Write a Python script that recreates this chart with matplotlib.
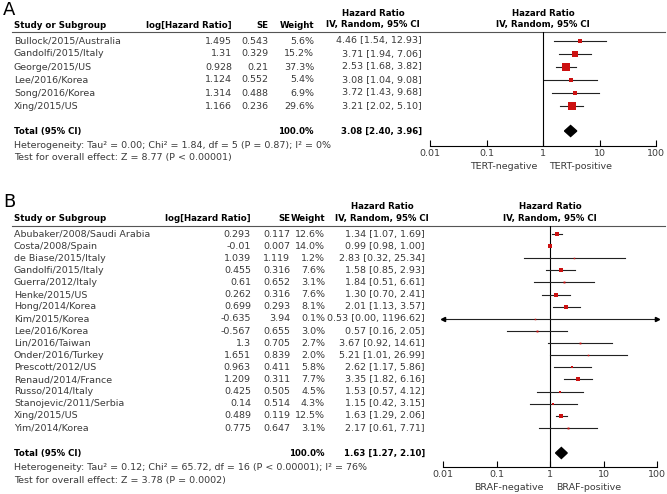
import matplotlib
matplotlib.use("Agg")
import matplotlib.pyplot as plt
from matplotlib.patches import Polygon
from matplotlib.ticker import NullLocator

W, H = 667, 494

# Panel A: TERT
a_studies = ["Bullock/2015/Australia", "Gandolfi/2015/Italy", "George/2015/US",
             "Lee/2016/Korea", "Song/2016/Korea", "Xing/2015/US"]
a_loghr = [1.495, 1.31, 0.928, 1.124, 1.314, 1.166]
a_se = [0.543, 0.329, 0.21, 0.552, 0.488, 0.236]
a_weight = [5.6, 15.2, 37.3, 5.4, 6.9, 29.6]
a_hr = [4.46, 3.71, 2.53, 3.08, 3.72, 3.21]
a_lo = [1.54, 1.94, 1.68, 1.04, 1.43, 2.02]
a_hi = [12.93, 7.06, 3.82, 9.08, 9.68, 5.10]
a_total = [3.08, 2.40, 3.96]
a_het = "Heterogeneity: Tau² = 0.00; Chi² = 1.84, df = 5 (P = 0.87); I² = 0%"
a_test = "Test for overall effect: Z = 8.77 (P < 0.00001)"

# Panel B: BRAF
b_studies = ["Abubaker/2008/Saudi Arabia", "Costa/2008/Spain", "de Biase/2015/Italy",
             "Gandolfi/2015/Italy", "Guerra/2012/Italy", "Henke/2015/US",
             "Hong/2014/Korea", "Kim/2015/Korea", "Lee/2016/Korea", "Lin/2016/Taiwan",
             "Onder/2016/Turkey", "Prescott/2012/US", "Renaud/2014/France",
             "Russo/2014/Italy", "Stanojevic/2011/Serbia", "Xing/2015/US", "Yim/2014/Korea"]
b_loghr = [0.293, -0.01, 1.039, 0.455, 0.61, 0.262, 0.699, -0.635, -0.567, 1.3,
           1.651, 0.963, 1.209, 0.425, 0.14, 0.489, 0.775]
b_se = [0.117, 0.007, 1.119, 0.316, 0.652, 0.316, 0.293, 3.94, 0.655, 0.705,
        0.839, 0.411, 0.311, 0.505, 0.514, 0.119, 0.647]
b_weight = [12.6, 14.0, 1.2, 7.6, 3.1, 7.6, 8.1, 0.1, 3.0, 2.7,
            2.0, 5.8, 7.7, 4.5, 4.3, 12.5, 3.1]
b_hr = [1.34, 0.99, 2.83, 1.58, 1.84, 1.30, 2.01, 0.53, 0.57, 3.67,
        5.21, 2.62, 3.35, 1.53, 1.15, 1.63, 2.17]
b_lo = [1.07, 0.98, 0.32, 0.85, 0.51, 0.70, 1.13, 0.00, 0.16, 0.92,
        1.01, 1.17, 1.82, 0.57, 0.42, 1.29, 0.61]
b_hi = [1.69, 1.00, 25.34, 2.93, 6.61, 2.41, 3.57, 1196.62, 2.05, 14.61,
        26.99, 5.86, 6.16, 4.12, 3.15, 2.06, 7.71]
b_total = [1.63, 1.27, 2.10]
b_het = "Heterogeneity: Tau² = 0.12; Chi² = 65.72, df = 16 (P < 0.00001); I² = 76%"
b_test = "Test for overall effect: Z = 3.78 (P = 0.0002)"

TICKS = [0.01, 0.1, 1, 10, 100]
TICK_LABELS = ["0.01", "0.1", "1", "10", "100"]

FS = 6.8     # regular text
FSB = 6.2    # bold headers
GREY = "#3a3a3a"
RED = "#cc1111"


def draw_panel(fig, tax, letter, studies, loghr, se, weight, hr, lo, hi, total,
               het, test, neg, pos, lay):
    # panel letter and headers
    tax.text(3, lay["letter"], letter, fontsize=13, va="center", ha="left")
    for xc in (lay["ci_c"], lay["x1"]):
        tax.text(xc, lay["h1"], "Hazard Ratio", fontsize=FSB, weight="bold",
                 ha="center", va="center")
        tax.text(xc, lay["h2"], "IV, Random, 95% CI", fontsize=FSB, weight="bold",
                 ha="center", va="center")
    tax.text(14, lay["h2"], "Study or Subgroup", fontsize=FSB, weight="bold", va="center")
    tax.text(lay["c_lhr"], lay["h2"], "log[Hazard Ratio]", fontsize=FSB, weight="bold",
             ha="right", va="center")
    tax.text(lay["c_se"], lay["h2"], "SE", fontsize=FSB, weight="bold", ha="right", va="center")
    tax.text(lay["c_w"], lay["h2"], "Weight", fontsize=FSB, weight="bold", ha="right", va="center")
    tax.plot([12, 665], [lay["line"], lay["line"]], color="#555555", lw=0.8)

    rows = [lay["r0"] + lay["dr"] * i for i in range(len(studies))]
    for y, s, l, e, w, h, a, b in zip(rows, studies, loghr, se, weight, hr, lo, hi):
        tax.text(14, y, s, fontsize=FS, color=GREY, va="center")
        tax.text(lay["c_lhr"], y, str(l), fontsize=FS, color=GREY, ha="right", va="center")
        tax.text(lay["c_se"], y, str(e), fontsize=FS, color=GREY, ha="right", va="center")
        tax.text(lay["c_w"], y, f"{w:.1f}%", fontsize=FS, color=GREY, ha="right", va="center")
        tax.text(lay["c_ci"], y, f"{h:.2f} [{a:.2f}, {b:.2f}]", fontsize=FS, color=GREY,
                 ha="right", va="center")

    ty = lay["tot"]
    tax.text(14, ty, "Total (95% CI)", fontsize=FSB, weight="bold", va="center")
    tax.text(lay["c_w"], ty, "100.0%", fontsize=FSB, weight="bold", ha="right", va="center")
    tax.text(lay["c_ci"], ty, f"{total[0]:.2f} [{total[1]:.2f}, {total[2]:.2f}]",
             fontsize=FSB, weight="bold", ha="right", va="center")
    tax.text(14, lay["het"], het, fontsize=FS, color=GREY, va="center")
    tax.text(14, lay["test"], test, fontsize=FS, color=GREY, va="center")

    # forest axes, y in figure pixels
    x0, x1, top, bot = lay["ax_l"], lay["ax_r"], lay["line"], lay["axis"]
    ax = fig.add_axes([x0 / W, 1 - bot / H, (x1 - x0) / W, (bot - top) / H])
    ax.set_xscale("log")
    ax.set_xlim(0.01, 100)
    ax.set_ylim(bot, top)
    ax.patch.set_alpha(0)
    for sp in ("top", "left", "right"):
        ax.spines[sp].set_visible(False)
    ax.spines["bottom"].set_linewidth(0.8)
    ax.set_yticks([])
    ax.set_xticks(TICKS)
    ax.set_xticklabels(TICK_LABELS)
    ax.xaxis.set_minor_locator(NullLocator())
    ax.tick_params(axis="x", direction="in", length=4, width=0.8, labelsize=FS,
                   pad=2, labelcolor=GREY)
    ax.axvline(1, color="black", lw=0.8)

    for y, w, h, a, b in zip(rows, weight, hr, lo, hi):
        a2, b2 = max(a, 0.0101), min(b, 99)
        ax.plot([a2, b2], [y, y], color="#222222", lw=0.8)
        if a < 0.01:
            ax.plot(a2, y, marker="<", color="black", ms=3, clip_on=False)
        if b > 100:
            ax.plot(b2, y, marker=">", color="black", ms=3, clip_on=False)
        side = max(lay["sq"] * w ** 0.5, 1.5)
        ax.plot(h, y, marker="s", color=RED, ms=side * 0.72, mew=0, ls="none")

    dh = 5.5
    ax.add_patch(Polygon([[total[1], ty], [total[0], ty - dh], [total[2], ty],
                          [total[0], ty + dh]], closed=True, color="black"))

    tax.text(lay["x1"] - 6, lay["lab"], neg, fontsize=FS, color=GREY, ha="right", va="center")
    tax.text(lay["x1"] + 6, lay["lab"], pos, fontsize=FS, color=GREY, ha="left", va="center")


lay_a = dict(letter=10, h1=13, h2=25, line=32, r0=41, dr=13, tot=131, het=145, test=157,
             axis=146, lab=166, ax_l=430, ax_r=656, x1=543, ci_c=373,
             c_lhr=232, c_se=268, c_w=314, c_ci=422, sq=1.35)
lay_b = dict(letter=202, h1=206, h2=218, line=226, r0=234, dr=12.125, tot=453, het=467,
             test=480, axis=467, lab=487, ax_l=443, ax_r=657, x1=550, ci_c=382,
             c_lhr=251, c_se=290, c_w=325, c_ci=425, sq=1.1)

fig = plt.figure(figsize=(W / 100, H / 100), dpi=100)
tax = fig.add_axes([0, 0, 1, 1])
tax.set_xlim(0, W)
tax.set_ylim(H, 0)
tax.axis("off")

draw_panel(fig, tax, "A", a_studies, a_loghr, a_se, a_weight, a_hr, a_lo, a_hi, a_total,
           a_het, a_test, "TERT-negative", "TERT-positive", lay_a)
draw_panel(fig, tax, "B", b_studies, b_loghr, b_se, b_weight, b_hr, b_lo, b_hi, b_total,
           b_het, b_test, "BRAF-negative", "BRAF-positive", lay_b)

fig.savefig("out.png", dpi=100)
